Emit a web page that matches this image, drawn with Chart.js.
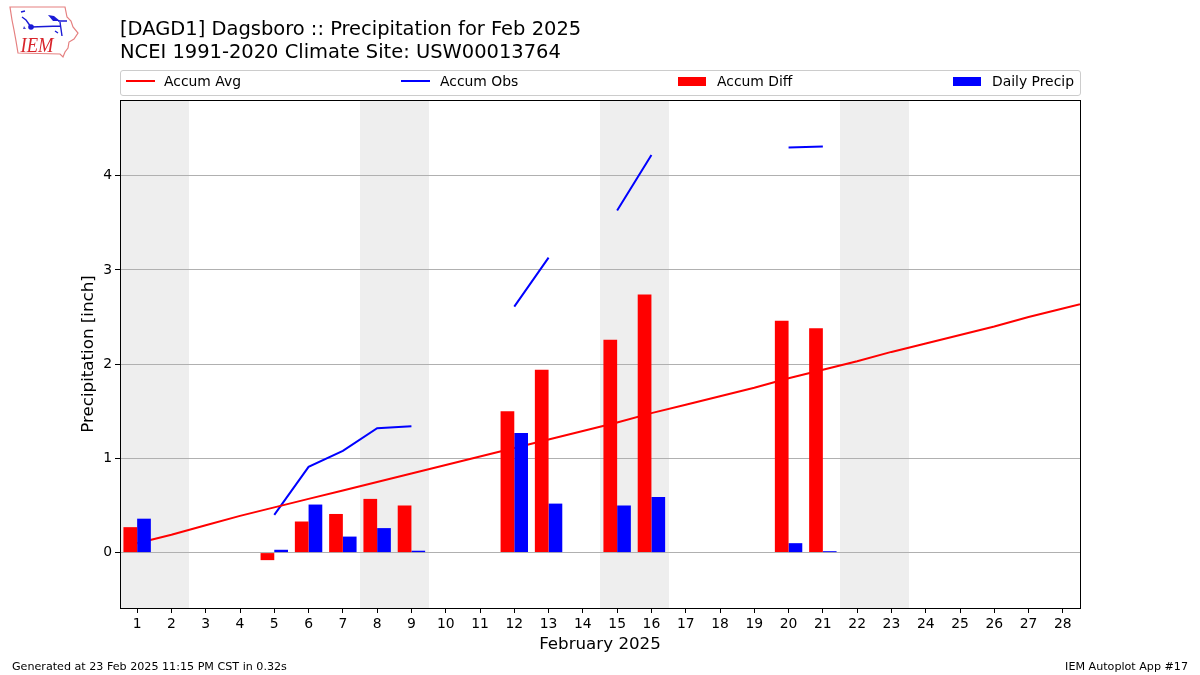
<!DOCTYPE html>
<html>
<head>
<meta charset="utf-8">
<title>Dagsboro Precipitation</title>
<script src="https://cdn.jsdelivr.net/npm/chart.js@4"></script>
<style>
    html, body { margin: 0; padding: 0; background: #fff; }
    body { width: 1200px; height: 675px; position: relative; overflow: hidden; font-family: "DejaVu Sans", sans-serif; color: #000; }
    canvas { position: absolute; left: 0; top: 0; }
    .txt { position: absolute; white-space: nowrap; }
    #title { left: 120px; top: 18px; font-size: 19.48px; line-height: 22.5px; }
    #legend { position: absolute; left: 120px; top: 70px; width: 959px; height: 24px; border: 1px solid #ccc; border-radius: 3px; }
    .leg { font-size: 13.9px; line-height: 16px; top: 73px; }
    .line { position: absolute; top: 80px; width: 29px; height: 2px; }
    .patch { position: absolute; top: 77px; width: 28px; height: 9px; }
    .foot { font-size: 11.14px; line-height: 13px; top: 660px; }
</style>
</head>
<body>
<canvas id="chart" width="1200" height="675"></canvas>

<svg style="position:absolute;left:0;top:0" width="90" height="65" viewBox="0 0 90 65">
    <path d="M10 7 L65 7 L67 17 L71 21 L73 27 L78 33 L74 39 L69 42 L68 48 L65 52 L63 57 L60 54 L18 53 L16 41 L14 30 L12 20 Z" fill="none" stroke="#e58080" stroke-width="1.2"/>
    <path d="M31 27 L60 26 M22 17 L26 20 L31 27 M21 12 L25 11 M58 21 L67 21 M60 22 L62 36 M55 31 L58 33" fill="none" stroke="#1a1ad6" stroke-width="1.4"/>
    <circle cx="31" cy="27" r="2.8" fill="#1a1ad6"/>
    <path d="M48 15 L54 16 L60 21 L53 21 Z" fill="#1a1ad6"/>
    <path d="M24 26 L26 29 L23 29 Z" fill="#4a4ad6"/>
    <text x="20.5" y="52" font-family="Liberation Serif" font-style="italic" font-size="21" textLength="33" lengthAdjust="spacingAndGlyphs" fill="#d8232a">IEM</text>
</svg>

<div class="txt" id="title">[DAGD1] Dagsboro :: Precipitation for Feb 2025<br>NCEI 1991-2020 Climate Site: USW00013764</div>

<div id="legend"></div>
<div class="line" style="left:126px;background:#f00"></div>
<div class="txt leg" style="left:164px">Accum Avg</div>
<div class="line" style="left:401px;background:#00f"></div>
<div class="txt leg" style="left:440px">Accum Obs</div>
<div class="patch" style="left:678px;background:#f00"></div>
<div class="txt leg" style="left:717px">Accum Diff</div>
<div class="patch" style="left:953px;background:#00f"></div>
<div class="txt leg" style="left:992px">Daily Precip</div>

<div class="txt foot" style="left:12px">Generated at 23 Feb 2025 11:15 PM CST in 0.32s</div>
<div class="txt foot" style="right:12px">IEM Autoplot App #17</div>

<script>
const days = [1, 2, 3, 4, 5, 6, 7, 8, 9, 10, 11, 12, 13, 14, 15, 16, 17, 18, 19, 20, 21, 22, 23, 24, 25, 26, 27, 28];
const avgDays = days.concat([29]);
const accumAvg = [0.10, 0.19, 0.29, 0.39, 0.48, 0.57, 0.66, 0.75, 0.84, 0.93, 1.02, 1.11, 1.20, 1.29, 1.38, 1.48, 1.57, 1.66, 1.75, 1.85, 1.94, 2.03, 2.13, 2.22, 2.31, 2.40, 2.50, 2.59, 2.68];
const accumObs = [null, null, null, null, 0.40, 0.91, 1.08, 1.32, 1.34, null, null, 2.61, 3.13, null, 3.63, 4.22, null, null, null, 4.30, 4.31, null, null, null, null, null, null, null];
const accumDiff = [0.27, null, null, null, -0.08, 0.33, 0.41, 0.57, 0.50, null, null, 1.50, 1.94, null, 2.26, 2.74, null, null, null, 2.46, 2.38, null, null, null, null, null, null, null];
const dailyPrecip = [0.36, null, null, null, 0.03, 0.51, 0.17, 0.26, 0.02, null, null, 1.27, 0.52, null, 0.50, 0.59, null, null, null, 0.10, 0.015, null, null, null, null, null, null, null];
const weekendDays = [1, 2, 8, 9, 15, 16, 22, 23];
const yTicks = [0, 1, 2, 3, 4];

function pairs(xs, ys) {
    return xs.map((x, i) => ({x: x, y: ys[i]}));
}

// grey weekend bands go under the grid, black frame goes on top of everything
const framePlugin = {
    id: 'frame',
    beforeDraw(chart) {
        const {ctx, chartArea, scales} = chart;
        ctx.save();
        ctx.fillStyle = '#eeeeee';
        weekendDays.forEach(d => {
            const x0 = Math.round(scales.x.getPixelForValue(d - 0.5));
            const x1 = Math.round(scales.x.getPixelForValue(d + 0.5));
            ctx.fillRect(x0, chartArea.top, x1 - x0, chartArea.bottom - chartArea.top);
        });
        ctx.restore();
    },
    afterDraw(chart) {
        const {ctx, chartArea} = chart;
        ctx.save();
        ctx.strokeStyle = '#000';
        ctx.lineWidth = 1;
        ctx.strokeRect(chartArea.left + 0.5, chartArea.top + 0.5, chartArea.right - chartArea.left, chartArea.bottom - chartArea.top);
        ctx.restore();
    }
};

Chart.defaults.font.family = '"DejaVu Sans", sans-serif';
Chart.defaults.color = '#000';

new Chart(document.getElementById('chart').getContext('2d'), {
    type: 'bar',
    plugins: [framePlugin],
    data: {
        datasets: [
            {
                type: 'bar',
                label: 'Accum Diff',
                data: pairs(days, accumDiff),
                backgroundColor: '#ff0000',
                categoryPercentage: 0.8,
                barPercentage: 1,
                order: 1
            }, {
                type: 'bar',
                label: 'Daily Precip',
                data: pairs(days, dailyPrecip),
                backgroundColor: '#0000ff',
                categoryPercentage: 0.8,
                barPercentage: 1,
                order: 1
            }, {
                type: 'line',
                label: 'Accum Avg',
                data: pairs(avgDays, accumAvg),
                borderColor: '#ff0000',
                borderWidth: 2,
                pointRadius: 0,
                tension: 0,
                order: 2
            }, {
                type: 'line',
                label: 'Accum Obs',
                data: pairs(days, accumObs),
                borderColor: '#0000ff',
                borderWidth: 2,
                pointRadius: 0,
                tension: 0,
                spanGaps: false,
                order: 2
            }
        ]
    },
    options: {
        responsive: false,
        animation: false,
        devicePixelRatio: 1,
        layout: {padding: {top: 100, right: 120, left: 0, bottom: 0}},
        plugins: {legend: {display: false}, title: {display: false}, tooltip: {enabled: false}},
        scales: {
            x: {
                type: 'linear',
                min: 0.5,
                max: 28.5,
                offset: false,
                afterBuildTicks: axis => { axis.ticks = days.map(d => ({value: d})); },
                afterFit: axis => { axis.height = 67; },
                ticks: {
                    autoSkip: false,
                    maxRotation: 0,
                    padding: 3,
                    font: {size: 13.9},
                    callback: v => String(v)
                },
                grid: {drawOnChartArea: false, offset: false, tickLength: 5, tickColor: '#000', tickWidth: 1},
                border: {display: false},
                title: {display: true, text: 'February 2025', font: {size: 16.7}, padding: {top: 0, bottom: 20}}
            },
            y: {
                min: -0.588,
                max: 4.8036,
                afterBuildTicks: axis => { axis.ticks = yTicks.map(v => ({value: v})); },
                afterFit: axis => { axis.width = 120; },
                ticks: {padding: 3, font: {size: 13.9}, callback: v => String(v)},
                grid: {color: '#b0b0b0', lineWidth: 1, tickLength: 5, tickColor: '#000'},
                border: {display: false},
                title: {display: true, text: 'Precipitation [inch]', font: {size: 16.7}, padding: {top: 79, bottom: 0}}
            }
        }
    }
});
</script>
</body>
</html>
